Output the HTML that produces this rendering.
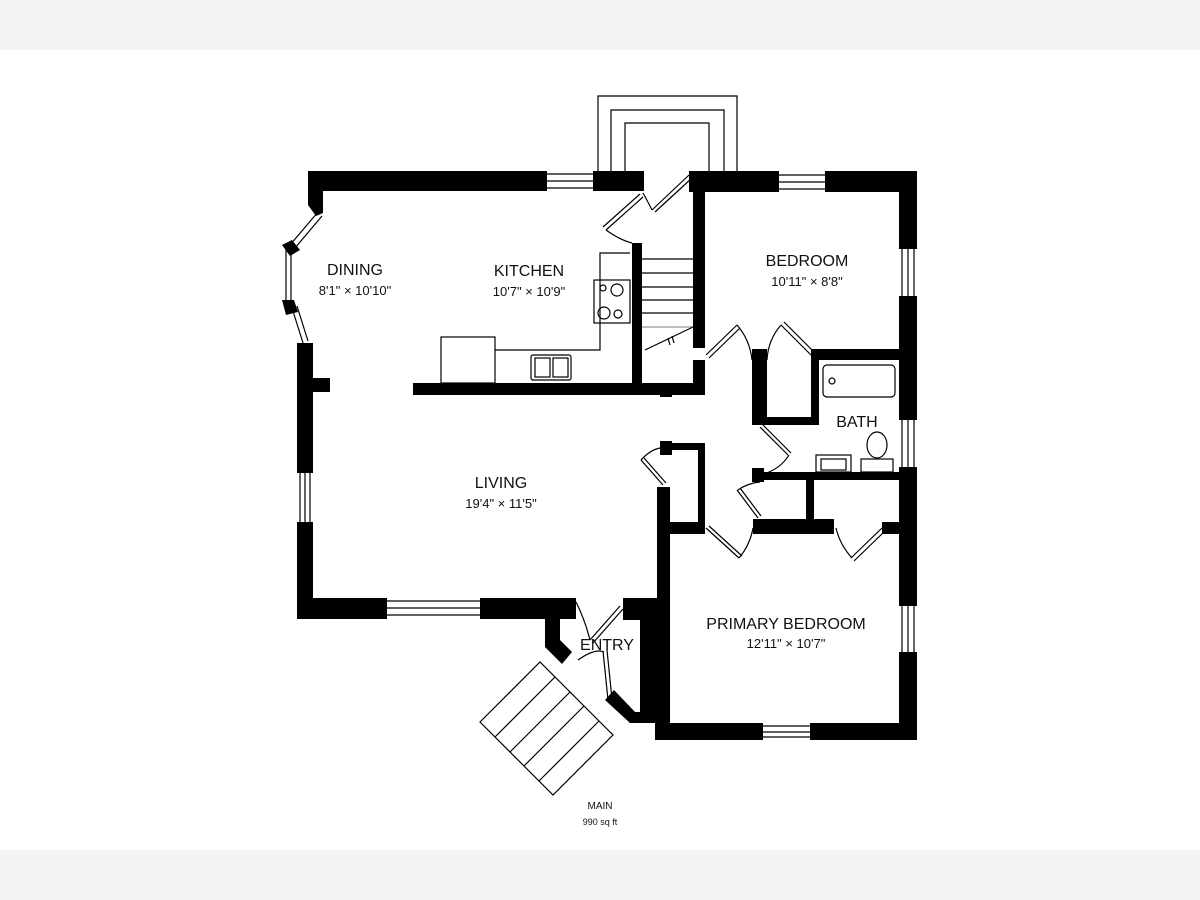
<!DOCTYPE html>
<html><head><meta charset="utf-8"><style>
html,body{margin:0;padding:0;width:1200px;height:900px;overflow:hidden;background:#fff}
svg{display:block}
text{font-family:"Liberation Sans",sans-serif;fill:#111;text-anchor:middle}
</style></head><body>
<svg width="1200" height="900" viewBox="0 0 1200 900" xmlns="http://www.w3.org/2000/svg">
<rect x="0" y="0" width="1200" height="50" fill="#f3f3f3"/>
<rect x="0" y="850" width="1200" height="50" fill="#f3f3f3"/>
<g fill="none" stroke="#000" stroke-width="1.2">
<path d="M598 171 V96 H737 V171"/>
<path d="M611 171 V110 H724 V171"/>
<path d="M625 171 V123 H709 V171"/>
<path d="M547 174 H593 M547 181 H593 M547 188 H593"/>
<path d="M779 175 H825 M779 182 H825 M779 189 H825"/>
<path d="M902 249 V296 M908 249 V296 M914 249 V296"/>
<path d="M902 420 V467 M908 420 V467 M914 420 V467"/>
<path d="M902 606 V652 M908 606 V652 M914 606 V652"/>
<path d="M387 601 H480 M387 608 H480 M387 615 H480"/>
<path d="M763 726 H810 M763 732 H810 M763 737 H810"/>
<path d="M300 473 V522 M305 473 V522 M310 473 V522"/>
<path d="M286 248 V304 M291 248 V304"/>
<path d="M290 245 L318 212 M295 248 L322 216"/>
<path d="M292 308 L303 343 M297 306 L308 341"/>
<path d="M642 259 H693 M642 273 H693 M642 287 H693 M642 300 H693 M642 313 H693"/>
<path d="M642 327 H693" stroke="#999"/>
<path d="M645 350 L693 327 M668 338 L670 345 M672 336 L674 343"/>
<rect x="441" y="337" width="54" height="46"/>
<path d="M495 350 H600 V253 H630"/>
<rect x="594" y="280" width="36" height="43"/>
<circle cx="603" cy="288" r="3"/><circle cx="617" cy="290" r="6"/>
<circle cx="604" cy="313" r="6"/><circle cx="618" cy="314" r="4"/>
<rect x="531" y="355" width="40" height="25" rx="2"/>
<rect x="535" y="358" width="15" height="19"/><rect x="553" y="358" width="15" height="19"/>
<rect x="823" y="365" width="72" height="32" rx="4"/>
<circle cx="832" cy="381" r="3"/>
<rect x="816" y="455" width="35" height="17"/><rect x="821" y="459" width="25" height="11"/>
<rect x="861" y="459" width="32" height="13"/><ellipse cx="877" cy="445" rx="10" ry="13"/>
<path d="M480 722 L540 662 L613 735 L553 795 Z"/>
<path d="M495 737 L555 677 M510 752 L570 692 M524 766 L584 706 M539 781 L599 721"/>
<path d="M603 651 L608 700 M607 650 L612 699"/>
<path d="M643 197 L606 230 M640 194 L603 227"/>
<path d="M606 230 Q620 240 632 243"/>
<path d="M652 210 Q647 200 643 193"/>
<path d="M652 210 L689 175 M655 212 L692 178"/>
<path d="M706 355 L737 325 M709 358 L740 328"/>
<path d="M737 325 Q750 340 752 360"/>
<path d="M781 325 L811 355 M784 322 L814 352"/>
<path d="M781 325 Q768 340 767 360"/>
<path d="M760 427 L788 455 M763 425 L791 453"/>
<path d="M789 455 Q780 470 760 475"/>
<path d="M737 490 L758 518 M740 488 L761 516"/>
<path d="M738 490 Q748 483 760 482"/>
<path d="M641 460 L663 485 M644 458 L666 483"/>
<path d="M641 460 Q650 450 660 448"/>
<path d="M706 528 L739 558 M709 526 L742 556"/>
<path d="M739 558 Q750 545 753 528"/>
<path d="M882 528 L851 558 M885 531 L854 561"/>
<path d="M852 558 Q840 545 836 528"/>
<path d="M620 606 L590 640 M623 609 L593 643"/>
<path d="M576 602 Q585 620 590 640"/>
<path d="M578 660 Q595 648 604 652"/>
</g>
<g fill="#000">
<rect x="308" y="171" width="239" height="20"/>
<rect x="593" y="171" width="51" height="20"/>
<polygon points="308,171 323,171 323,213 316,216 308,205"/>
<rect x="689" y="171" width="90" height="21"/>
<rect x="825" y="171" width="92" height="21"/>
<rect x="899" y="171" width="18" height="78"/>
<rect x="899" y="296" width="18" height="124"/>
<rect x="899" y="467" width="18" height="139"/>
<rect x="899" y="652" width="18" height="88"/>
<polygon points="282,245 292,240 300,250 290,256"/>
<polygon points="282,300 294,300 298,312 286,315"/>
<rect x="297" y="343" width="16" height="130"/>
<rect x="297" y="522" width="16" height="97"/>
<rect x="313" y="378" width="17" height="14"/>
<rect x="297" y="598" width="90" height="21"/>
<rect x="480" y="598" width="96" height="21"/>
<polygon points="545,619 560,619 560,640 572,652 562,664 545,647"/>
<rect x="623" y="598" width="34" height="22"/>
<rect x="640" y="598" width="20" height="125"/>
<polygon points="605,700 614,690 635,712 655,712 655,723 630,723"/>
<rect x="655" y="723" width="108" height="17"/>
<rect x="810" y="723" width="107" height="17"/>
<rect x="657" y="487" width="13" height="253"/>
<rect x="413" y="383" width="292" height="12"/>
<rect x="632" y="243" width="10" height="140"/>
<rect x="693" y="171" width="12" height="177"/>
<rect x="693" y="360" width="12" height="35"/>
<rect x="660" y="393" width="12" height="4"/>
<rect x="811" y="349" width="88" height="11"/>
<rect x="752" y="349" width="15" height="76"/>
<rect x="752" y="417" width="67" height="8"/>
<rect x="811" y="349" width="8" height="76"/>
<rect x="755" y="472" width="144" height="8"/>
<rect x="752" y="468" width="12" height="14"/>
<rect x="660" y="443" width="45" height="7"/>
<rect x="660" y="441" width="12" height="14"/>
<rect x="698" y="443" width="7" height="91"/>
<rect x="660" y="522" width="45" height="12"/>
<rect x="753" y="519" width="81" height="15"/>
<rect x="806" y="477" width="8" height="45"/>
<rect x="882" y="522" width="35" height="12"/>
</g>
<g font-size="16">
<text x="355" y="275">DINING</text>
<text x="355" y="295" font-size="13">8'1" × 10'10"</text>
<text x="529" y="276">KITCHEN</text>
<text x="529" y="296" font-size="13">10'7" × 10'9"</text>
<text x="807" y="266">BEDROOM</text>
<text x="807" y="286" font-size="13">10'11" × 8'8"</text>
<text x="857" y="427">BATH</text>
<text x="501" y="488">LIVING</text>
<text x="501" y="508" font-size="13">19'4" × 11'5"</text>
<text x="607" y="650">ENTRY</text>
<text x="786" y="629">PRIMARY BEDROOM</text>
<text x="786" y="648" font-size="13">12'11" × 10'7"</text>
<text x="600" y="809" font-size="10">MAIN</text>
<text x="600" y="825" font-size="9">990 sq ft</text>
</g>
</svg>
</body></html>
